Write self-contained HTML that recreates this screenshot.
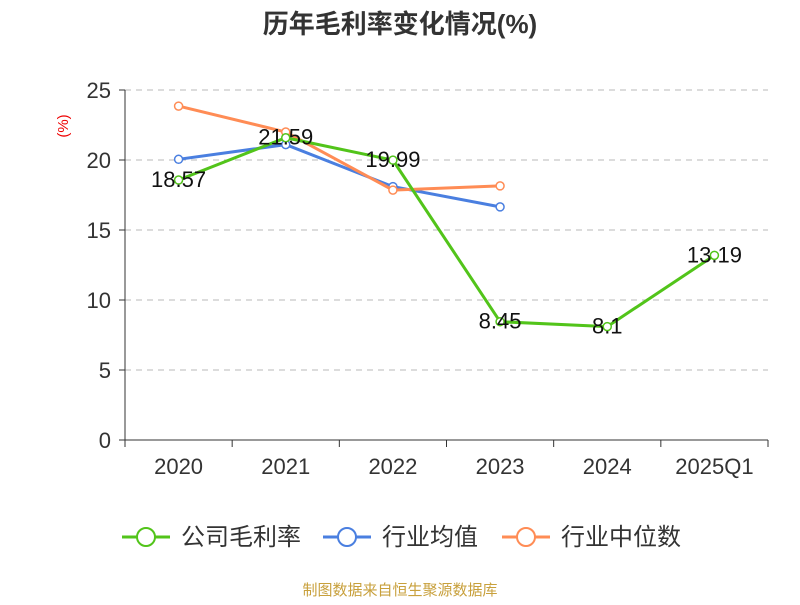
<!DOCTYPE html>
<html><head><meta charset="utf-8"><style>
body{margin:0;background:#fff;font-family:"Liberation Sans","Noto Sans CJK SC",sans-serif;}
svg text{font-family:"Liberation Sans","Noto Sans CJK SC",sans-serif;}
</style></head><body>
<svg id="chart" width="800" height="600">
<text x="400" y="33" text-anchor="middle" font-size="26" font-weight="bold" fill="#333">历年毛利率变化情况(%)</text>
<text transform="translate(68,126) rotate(-90)" text-anchor="middle" font-size="15" fill="#e00">(%)</text>
<g id="grid"></g><g id="axes"></g><g id="series"></g>
<g font-size="24" fill="#333">
<g><line x1="122" y1="537" x2="170" y2="537" stroke="#52c41a" stroke-width="3"/><circle cx="146" cy="537" r="9" fill="#fff" stroke="#52c41a" stroke-width="2"/><text x="181" y="545">公司毛利率</text></g>
<g><line x1="323" y1="537" x2="371" y2="537" stroke="#4a7fe0" stroke-width="3"/><circle cx="347" cy="537" r="9" fill="#fff" stroke="#4a7fe0" stroke-width="2"/><text x="382" y="545">行业均值</text></g>
<g><line x1="502" y1="537" x2="550" y2="537" stroke="#ff8c55" stroke-width="3"/><circle cx="526" cy="537" r="9" fill="#fff" stroke="#ff8c55" stroke-width="2"/><text x="561" y="545">行业中位数</text></g>
</g>
<text x="400" y="595" text-anchor="middle" font-size="15" fill="#c8a03c">制图数据来自恒生聚源数据库</text>
</svg>
<script>
const categories=["2020","2021","2022","2023","2024","2025Q1"];
const grossMargin=[18.57,21.59,19.99,8.45,8.1,13.19];
const industryAvg=[20.05,21.1,18.1,16.65];
const industryMedian=[23.85,22.0,17.85,18.15];
const yTicks=[0,5,10,15,20,25];
const NS="http://www.w3.org/2000/svg";
const x0=125,x1=768,y0=440,y1=90,yMax=25;
const bw=(x1-x0)/categories.length;
const xs=i=>x0+bw*(i+0.5);
const ys=v=>y0-(v/yMax)*(y0-y1);
function mk(p,t,a){const e=document.createElementNS(NS,t);for(const k in a)e.setAttribute(k,a[k]);p.appendChild(e);return e;}
const grid=document.getElementById('grid'),axes=document.getElementById('axes'),ser=document.getElementById('series');
yTicks.forEach(t=>{
 if(t>0){const g=mk(grid,'line',{x1:x0,x2:x1,y1:ys(t),y2:ys(t),stroke:'#b8b8b8','stroke-dasharray':'6,5'});
 
 }
 mk(axes,'line',{x1:x0-6,x2:x0,y1:ys(t),y2:ys(t),stroke:'#333'});
 const l=mk(axes,'text',{x:x0-14,y:ys(t)+8,'text-anchor':'end','font-size':22,fill:'#333'});l.textContent=t;
 
 
});
mk(axes,'line',{x1:x0,x2:x0,y1:y1,y2:y0,stroke:'#333'});
mk(axes,'line',{x1:x0,x2:x1,y1:y0,y2:y0,stroke:'#333'});
for(let i=0;i<=categories.length;i++)mk(axes,'line',{x1:x0+bw*i,x2:x0+bw*i,y1:y0,y2:y0+7,stroke:'#333'});
categories.forEach((c,i)=>{const l=mk(axes,'text',{x:xs(i),y:474,'text-anchor':'middle','font-size':22,fill:'#333'});l.textContent=c;
 
 });
function series(data,color,name,labels){
 const g=mk(ser,'g',{});
 
 
 mk(g,'polyline',{points:data.map((v,i)=>xs(i)+','+ys(v)).join(' '),fill:'none',stroke:color,'stroke-width':3});
 data.forEach((v,i)=>{const c=mk(g,'circle',{cx:xs(i),cy:ys(v),r:4,fill:'#fff',stroke:color,'stroke-width':1.5});
  
  
  if(labels){const t=mk(g,'text',{x:xs(i),y:ys(v)+7,'text-anchor':'middle','font-size':22,fill:'#111'});t.textContent=v;
  
  }
 });
}
series(industryAvg,'#4a7fe0','industry-average-line',false);
series(industryMedian,'#ff8c55','industry-median-line',false);
series(grossMargin,'#52c41a','gross-margin-line',true);
</script>
</body></html>
